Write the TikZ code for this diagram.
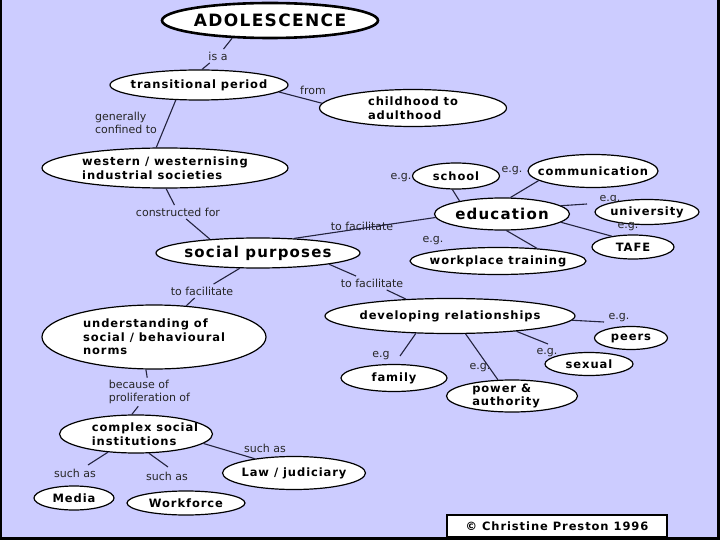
\documentclass[tikz,border=0pt]{standalone}
\usepackage{fontspec}
\setmainfont{DejaVu Sans}
\newfontfamily\mapfont[LetterSpace=8]{DejaVu Sans}
\usetikzlibrary{shapes.geometric}
\definecolor{lilac}{RGB}{204,204,255}
\definecolor{linkcol}{RGB}{35,35,62}
\tikzset{
  oval/.style 2 args={ellipse, draw, fill=white, line width=1.2pt,
    minimum width=#1, minimum height=#2, inner sep=0pt},
  ovaltext/.style={font=\mapfont\bfseries\fontsize{11.5}{13.5}\selectfont, align=left, inner sep=0pt},
  bigtext/.style={font=\mapfont\bfseries\fontsize{15}{18}\selectfont, inner sep=0pt},
  lab/.style={font=\fontsize{11}{12.5}\selectfont, align=left, inner sep=2.5pt, text=black!85},
  link/.style={draw=linkcol, line width=1.1pt}
}
\begin{document}
\begin{tikzpicture}[x=1pt,y=-1pt]
\useasboundingbox (0,0) rectangle (720,540);
\fill[black] (0,0) rectangle (720,540);
\fill[lilac] (1.5,0) rectangle (716.5,537);

% concepts
\node[oval={216}{35}, line width=2.6pt, label={[bigtext, font=\mapfont\bfseries\fontsize{17}{20}\selectfont]center:ADOLESCENCE}] (adol) at (270,20.5) {};
\node[oval={178}{30}, label={[ovaltext]center:transitional period}] (tp) at (199,85) {};
\node[oval={187}{37}, label={[ovaltext]center:{childhood to\\adulthood}}] (child) at (413,108) {};
\node[oval={246}{40}, label={[ovaltext]center:{western / westernising\\industrial societies}}] (west) at (165,168) {};
\node[oval={204}{30}, label={[bigtext]center:social purposes}] (soc) at (258,253) {};
\node[oval={135}{32}, label={[bigtext]center:education}] (edu) at (502,214) {};
\node[oval={87}{26}, label={[ovaltext]center:school}] (school) at (456,176) {};
\node[oval={130}{33}, label={[ovaltext]center:communication}] (comm) at (593,171) {};
\node[oval={104}{25}, label={[ovaltext]center:university}] (uni) at (647,212) {};
\node[oval={82}{24}, label={[ovaltext]center:TAFE}] (tafe) at (633,247) {};
\node[oval={176}{27}, label={[ovaltext]center:workplace training}] (wt) at (498,261) {};
\node[oval={250}{35}, label={[ovaltext]center:developing relationships}] (dev) at (450,316) {};
\node[oval={73}{23}, label={[ovaltext]center:peers}] (peers) at (631,338) {};
\node[oval={88}{23}, label={[ovaltext]center:sexual}] (sexual) at (589,364) {};
\node[oval={106}{27}, label={[ovaltext]center:family}] (family) at (394,378) {};
\node[oval={131}{32}, label={[ovaltext, xshift=-6pt]center:{power \&\\authority}}] (pa) at (512,396) {};
\node[oval={224}{64}, label={[ovaltext]center:{understanding of\\social / behavioural\\norms}}] (und) at (154,337) {};
\node[oval={153}{38}, label={[ovaltext, xshift=9pt]center:{complex social\\institutions}}] (cplx) at (136,434) {};
\node[oval={143}{33}, label={[ovaltext]center:Law / judiciary}] (law) at (294,473) {};
\node[oval={80}{24}, label={[ovaltext]center:Media}] (media) at (74,498) {};
\node[oval={118}{24}, label={[ovaltext]center:Workforce}] (work) at (186,503) {};

% link words
\node[lab] (isa) at (218,56) {is a};
\node[lab] (from) at (313,90) {from};
\node[lab] (gen) at (126,123) {generally\\confined to};
\node[lab] (cons) at (178,212) {constructed for};
\node[lab] (fac1) at (362,226) {to facilitate};
\node[lab] (egschool) at (401,178) {e.g.};
\node[lab] (egcomm) at (512,171) {e.g.};
\node[lab] (eguni) at (610,200) {e.g.};
\node[lab] (egtafe) at (628,227) {e.g.};
\node[lab] (egwt) at (433,241) {e.g.};
\node[lab] (fac2) at (372,283) {to facilitate};
\node[lab] (egpeers) at (619,318) {e.g.};
\node[lab] (egsex) at (547,353) {e.g.};
\node[lab] (egfam) at (381,356) {e.g};
\node[lab] (egpa) at (480,368) {e.g.};
\node[lab] (fac3) at (202,291) {to facilitate};
\node[lab] (bec) at (149.5,392) {because of\\proliferation of};
\node[lab] (suchlaw) at (265,448) {such as};
\node[lab] (suchmed) at (75,473) {such as};
\node[lab] (suchwork) at (167,476) {such as};

\coordinate (cuni) at (587,204);
\coordinate (cpeer) at (604,322);
\coordinate (csex) at (548,344);
\coordinate (cfam) at (400,356);
\coordinate (cmed) at (88,465);
\coordinate (cwork) at (168,467);

% links
\draw[link] (adol.205) -- (isa) -- (tp.79);
\draw[link] (tp.-5) -- (child.177);
\draw[link] (tp.213) -- (west.113);
\draw[link] (west.-87) -- (cons) -- (soc.164);
\draw[link] (soc.22) -- (edu.183);
\draw[link] (edu.163) -- (school.-105);
\draw[link] (edu.63) -- (comm.190);
\draw[link] (edu.8) -- (cuni);
\draw[link] (edu.-8) -- (tafe.153);
\draw[link] (edu.-75) -- (wt.18);
\draw[link] (soc.-9) -- (fac2) -- (dev.159);
\draw[link] (dev.-2) -- (cpeer);
\draw[link] (dev.-13) -- (csex);
\draw[link] (dev.207) -- (cfam);
\draw[link] (dev.-49) -- (pa.131);
\draw[link] (soc.220) -- (fac3) -- (und.44);
\draw[link] (und.-104) -- (bec) -- (cplx.102);
\draw[link] (cplx.-8) -- (law.160);
\draw[link] (cplx.213) -- (cmed);
\draw[link] (cplx.-56) -- (cwork);

\node[draw, fill=white, line width=1.2pt, minimum width=220, minimum height=22,
  font=\mapfont\bfseries\fontsize{11.5}{13}\selectfont] (copy) at (557,526) {© Christine Preston 1996};
\end{tikzpicture}
\end{document}
